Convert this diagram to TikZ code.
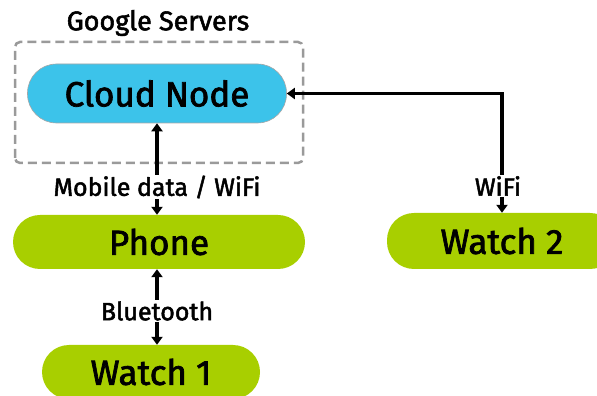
\documentclass[tikz,border=0pt]{standalone}
\usepackage{fontspec}
\setmainfont{Fira Sans}[FakeBold=2]
\usetikzlibrary{arrows.meta}
\definecolor{cloudblue}{HTML}{3CC3EA}
\definecolor{devgreen}{HTML}{A8CF00}
\definecolor{boxgray}{HTML}{9A9A9A}
\tikzset{
  pill/.style={rectangle, rounded corners=#1, inner sep=0pt, text=black},
  cloudbox/.style={pill=29pt, fill=cloudblue, draw=gray!70, line width=0.6pt,
    minimum width=259pt, minimum height=59pt, font=\fontsize{35}{37}\selectfont},
  devbox/.style={pill=27pt, fill=devgreen,
    minimum height=54pt, font=\fontsize{35}{37}\selectfont},
  link/.style={line width=3.2pt, {Triangle[width=11pt,length=8pt]}-{Triangle[width=11pt,length=8pt]}},
  lab/.style={fill=white, inner sep=1pt, font=\fontsize{25}{27}\selectfont},
  group/.style={draw=boxgray, line width=2.5pt, dash pattern=on 9pt off 5pt, rounded corners=5pt}
}
\begin{document}
\begin{tikzpicture}[x=1pt,y=1pt]
  \useasboundingbox (0,0) rectangle (597,396);
  % server group
  \draw[group] (15,233) rectangle (303,354);
  \node[font=\fontsize{27}{29}\selectfont] (gs) at (158,373) {Google Servers};
  % nodes
  \node[cloudbox] (cloud) at (157,302.5) {Cloud Node};
  \node[devbox, minimum width=292pt] (phone) at (159,154) {Phone};
  \node[devbox, minimum width=218pt] (w1) at (151,24) {Watch 1};
  \node[devbox, minimum width=230pt, minimum height=56pt] (w2) at (502,155) {Watch 2};
  % connections
  \draw[link] (cloud.south) -- (cloud.south |- phone.north);
  \node[lab] (l1) at (157,209) {Mobile data / WiFi};
  \draw[link] (phone.south -| cloud.south) -- (w1.north -| cloud.south);
  \node[lab] (l2) at (157,85) {Bluetooth};
  \coordinate (corner) at (cloud.east -| w2.north);
  \draw[link] (cloud.east) -- (corner) -- (w2.north);
  \node[lab] (l3) at (498,210) {WiFi};
\end{tikzpicture}
\end{document}
